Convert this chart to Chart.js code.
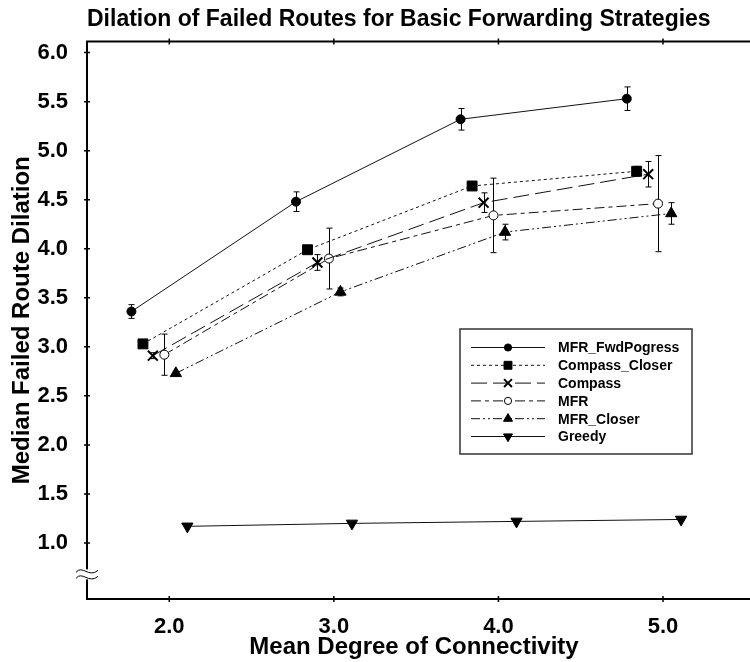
<!DOCTYPE html>
<html>
<head>
<meta charset="utf-8">
<title>Dilation of Failed Routes</title>
<script src="https://cdn.jsdelivr.net/npm/chart.js@4.4.1/dist/chart.umd.min.js"></script>
<style>
  html, body { margin: 0; padding: 0; background: #fff; }
</style>
</head>
<body>
<canvas id="dilation-chart" width="750" height="662"></canvas>
<script>
// tick labels
const xTicks = [2.0, 3.0, 4.0, 5.0];
const yTicks = [1.0, 1.5, 2.0, 2.5, 3.0, 3.5, 4.0, 4.5, 5.0, 5.5, 6.0];

const seriesNames = ['MFR_FwdPogress', 'Compass_Closer', 'Compass', 'MFR', 'MFR_Closer', 'Greedy'];

// each series is plotted slightly offset along x, as in the original
const fwdX = [1.77, 2.77, 3.77, 4.78];
const fwdY = [3.36, 4.48, 5.32, 5.53];
const fwdErr = [0.07, 0.10, 0.11, 0.12];

const compCloserX = [1.84, 2.84, 3.84, 4.84];
const compCloserY = [3.03, 3.99, 4.64, 4.79];
const compCloserErr = [0.02, 0.03, 0.04, 0.05];

const compassX = [1.90, 2.90, 3.91, 4.91];
const compassY = [2.91, 3.86, 4.47, 4.76];
const compassErr = [0.03, 0.08, 0.10, 0.13];

const mfrX = [1.97, 2.97, 3.97, 4.97];
const mfrY = [2.92, 3.90, 4.34, 4.46];
const mfrErr = [0.21, 0.31, 0.38, 0.49];

const mfrCloserX = [2.04, 3.04, 4.04, 5.05];
const mfrCloserY = [2.73, 3.56, 4.17, 4.36];
const mfrCloserErr = [0.02, 0.04, 0.08, 0.11];

const greedyX = [2.11, 3.11, 4.11, 5.11];
const greedyY = [1.17, 1.20, 1.22, 1.24];
const greedyErr = [0, 0, 0, 0];

const allX = [fwdX, compCloserX, compassX, mfrX, mfrCloserX, greedyX];
const allY = [fwdY, compCloserY, compassY, mfrY, mfrCloserY, greedyY];
const allErr = [fwdErr, compCloserErr, compassErr, mfrErr, mfrCloserErr, greedyErr];

const FONT = "'Liberation Sans', Arial, sans-serif";

const styles = [
  { pointStyle: 'circle', pointRadius: 4.5, pointBackgroundColor: '#000', pointBorderWidth: 1, borderDash: [] },
  { pointStyle: 'rect', pointRadius: 7, pointBackgroundColor: '#000', pointBorderWidth: 1, borderDash: [3, 3] },
  { pointStyle: 'crossRot', pointRadius: 7, pointBackgroundColor: '#000', pointBorderWidth: 2, borderDash: [16, 6] },
  { pointStyle: 'circle', pointRadius: 4.5, pointBackgroundColor: '#fff', pointBorderWidth: 1, borderDash: [10, 4, 4, 4] },
  { pointStyle: 'triangle', pointRadius: 6.5, pointBackgroundColor: '#000', pointBorderWidth: 1, borderDash: [9, 3, 2, 3, 2, 3] },
  { pointStyle: 'triangle', pointRadius: 6.5, pointRotation: 180, pointBackgroundColor: '#000', pointBorderWidth: 1, borderDash: [] }
];

const datasets = seriesNames.map((name, i) => Object.assign({
  label: name,
  data: allX[i].map((v, j) => ({ x: v, y: allY[i][j] })),
  borderColor: '#111',
  borderWidth: 1,
  pointBorderColor: '#000',
  tension: 0,
  fill: false,
  clip: false
}, styles[i]));

// vertical error bars, drawn under the markers
const errorBars = {
  id: 'errorBars',
  beforeDatasetsDraw(chart) {
    const { ctx, scales: { x, y } } = chart;
    ctx.save();
    ctx.strokeStyle = '#000';
    ctx.lineWidth = 1;
    allErr.forEach((errs, i) => {
      errs.forEach((e, j) => {
        if (!e) return;
        const px = Math.round(x.getPixelForValue(allX[i][j])) + 0.5;
        const top = y.getPixelForValue(allY[i][j] + e);
        const bot = y.getPixelForValue(allY[i][j] - e);
        ctx.beginPath();
        ctx.moveTo(px, top); ctx.lineTo(px, bot);
        ctx.moveTo(px - 3, top); ctx.lineTo(px + 3, top);
        ctx.moveTo(px - 3, bot); ctx.lineTo(px + 3, bot);
        ctx.stroke();
      });
    });
    ctx.restore();
  }
};

// axis frame, crossing tick marks and the axis break mark
const frame = {
  id: 'frame',
  afterDraw(chart) {
    const { ctx, chartArea: a, scales: { x, y } } = chart;
    ctx.save();
    ctx.strokeStyle = '#000';
    ctx.lineWidth = 2;
    ctx.beginPath();
    ctx.moveTo(chart.width, a.top);
    ctx.lineTo(a.left, a.top);
    ctx.lineTo(a.left, a.bottom);
    ctx.lineTo(chart.width, a.bottom);
    ctx.stroke();

    ctx.lineWidth = 1.5;
    ctx.beginPath();
    xTicks.forEach(v => {
      const px = x.getPixelForValue(v);
      ctx.moveTo(px, a.top - 3); ctx.lineTo(px, a.top + 3);
      ctx.moveTo(px, a.bottom - 3); ctx.lineTo(px, a.bottom + 3);
    });
    yTicks.forEach(v => {
      const py = y.getPixelForValue(v);
      ctx.moveTo(a.left - 3, py); ctx.lineTo(a.left + 3, py);
    });
    ctx.stroke();

    // break symbol on the y axis
    const by = y.getPixelForValue(0.68);
    ctx.fillStyle = '#fff';
    ctx.fillRect(a.left - 3, by - 5, 6, 10);
    ctx.lineWidth = 1;
    [-3, 3].forEach(off => {
      ctx.beginPath();
      ctx.moveTo(a.left - 11, by + off + 1);
      ctx.bezierCurveTo(a.left - 5, by + off - 7, a.left + 2, by + off + 7, a.left + 11, by + off - 1);
      ctx.stroke();
    });
    ctx.restore();
  }
};

function drawMarker(ctx, st, cx, cy, scale) {
  const r = st.pointRadius * scale;
  ctx.save();
  ctx.setLineDash([]);
  ctx.fillStyle = st.pointBackgroundColor;
  ctx.strokeStyle = '#000';
  ctx.lineWidth = st.pointBorderWidth;
  ctx.beginPath();
  if (st.pointStyle === 'circle') {
    ctx.arc(cx, cy, r, 0, Math.PI * 2);
    ctx.fill(); ctx.stroke();
  } else if (st.pointStyle === 'rect') {
    const s = r * Math.SQRT1_2;
    ctx.rect(cx - s, cy - s, 2 * s, 2 * s);
    ctx.fill(); ctx.stroke();
  } else if (st.pointStyle === 'crossRot') {
    const s = r * Math.SQRT1_2;
    ctx.moveTo(cx - s, cy - s); ctx.lineTo(cx + s, cy + s);
    ctx.moveTo(cx - s, cy + s); ctx.lineTo(cx + s, cy - s);
    ctx.stroke();
  } else if (st.pointStyle === 'triangle') {
    const d = st.pointRotation === 180 ? -1 : 1;
    ctx.moveTo(cx, cy - d * r);
    ctx.lineTo(cx + r * 0.866, cy + d * r * 0.5);
    ctx.lineTo(cx - r * 0.866, cy + d * r * 0.5);
    ctx.closePath();
    ctx.fill(); ctx.stroke();
  }
  ctx.restore();
}

// boxed legend inside the plot, line sample + marker + name
const boxLegend = {
  id: 'boxLegend',
  afterDraw(chart) {
    const { ctx } = chart;
    const bx = 460, by = 329, bw = 232, bh = 125;
    ctx.save();
    ctx.fillStyle = '#fff';
    ctx.fillRect(bx, by, bw, bh);
    ctx.strokeStyle = '#333';
    ctx.lineWidth = 1.5;
    ctx.strokeRect(bx, by, bw, bh);
    ctx.font = 'bold 14px ' + FONT;
    ctx.textBaseline = 'middle';
    ctx.fillStyle = '#000';
    seriesNames.forEach((name, i) => {
      const ry = by + 18.5 + i * 17.8;
      ctx.strokeStyle = '#111';
      ctx.lineWidth = 1;
      ctx.setLineDash(styles[i].borderDash);
      ctx.beginPath();
      ctx.moveTo(bx + 11, ry); ctx.lineTo(bx + 85, ry);
      ctx.stroke();
      drawMarker(ctx, styles[i], bx + 48, ry, 0.8);
      ctx.fillStyle = '#000';
      ctx.fillText(name, bx + 98, ry + 1);
    });
    ctx.restore();
  }
};

const ctx = document.getElementById('dilation-chart').getContext('2d');

const myChart = new Chart(ctx, {
  type: 'line',
  data: { datasets: datasets },
  plugins: [errorBars, frame, boxLegend],
  options: {
    responsive: false,
    animation: false,
    devicePixelRatio: 1,
    layout: { padding: 0 },
    plugins: {
      legend: { display: false },
      tooltip: { enabled: false },
      title: {
        display: true,
        text: 'Dilation of Failed Routes for Basic Forwarding Strategies',
        color: '#000',
        align: 'start',
        fullSize: false,
        font: { family: FONT, size: 23, weight: 'bold' },
        padding: { top: 6, bottom: 8 }
      }
    },
    scales: {
      x: {
        type: 'linear',
        min: 1.5,
        max: 5.474,
        grid: { display: false },
        border: { display: false },
        afterBuildTicks: s => { s.ticks = xTicks.map(v => ({ value: v })); },
        afterFit: s => { s.height = 63; s.paddingLeft = 0; s.paddingRight = 0; },
        ticks: {
          color: '#000',
          padding: 7,
          autoSkip: false,
          maxRotation: 0,
          font: { family: FONT, size: 22, weight: 'bold' },
          callback: v => Number(v).toFixed(1)
        },
        title: {
          display: true,
          text: 'Mean Degree of Connectivity',
          color: '#000',
          font: { family: FONT, size: 24, weight: 'bold' },
          padding: { top: 0, bottom: 0 }
        }
      },
      y: {
        type: 'linear',
        min: 0.429,
        max: 6.112,
        grid: { display: false },
        border: { display: false },
        afterBuildTicks: s => { s.ticks = yTicks.map(v => ({ value: v })); },
        afterFit: s => { s.width = 87; s.paddingTop = 0; s.paddingBottom = 0; },
        ticks: {
          color: '#000',
          padding: 11,
          autoSkip: false,
          font: { family: FONT, size: 22, weight: 'bold' },
          callback: v => Number(v).toFixed(1)
        },
        title: {
          display: true,
          text: 'Median Failed Route Dilation',
          color: '#000',
          font: { family: FONT, size: 24, weight: 'bold' },
          padding: { top: 8, bottom: 0 }
        }
      }
    }
  }
});
</script>
</body>
</html>
